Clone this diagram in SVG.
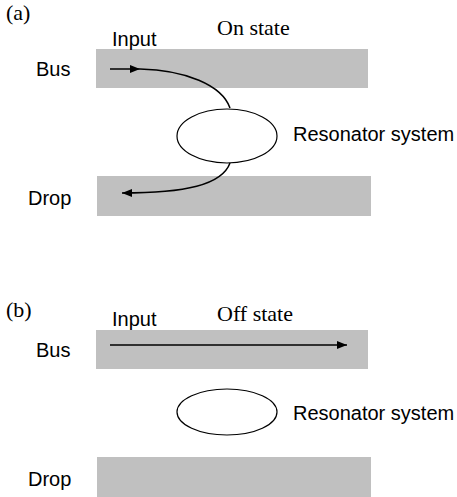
<svg xmlns="http://www.w3.org/2000/svg" width="457" height="497" viewBox="0 0 457 497">
<style>
.wg{fill:#c0c0c0}
.res{fill:#fff;stroke:#000;stroke-width:1.2}
.sans{font-family:"Liberation Sans",Arial,sans-serif;font-size:20px;fill:#000}
.serif{font-family:"Liberation Serif","Times New Roman",serif;font-size:22px;fill:#000}
.path{fill:none;stroke:#000;stroke-width:1.5}
</style>
<defs>
<marker id="ah" viewBox="0 0 10 8" refX="10" refY="4" markerWidth="10" markerHeight="8" markerUnits="userSpaceOnUse" orient="auto">
<path d="M0,0 L10,4 L0,8 Z" fill="#000"/>
</marker>
</defs>
<rect width="457" height="497" fill="#fff"/>
<g id="panel-a">
<text class="serif" x="6" y="20">(a)</text>
<text class="serif" x="217" y="35">On state</text>
<g id="bus-a"><rect class="wg" x="96" y="49" width="272" height="39"/><text class="sans" x="36" y="76">Bus</text></g>
<g id="drop-a"><rect class="wg" x="97" y="176" width="274" height="40"/><text class="sans" x="28" y="205">Drop</text></g>
<g id="res-a"><ellipse class="res" cx="227" cy="136" rx="50" ry="27"/><text class="sans" x="293" y="141">Resonator system</text></g>
<text class="sans" x="112" y="46" font-size="19">Input</text>
</g>
<g id="panel-b">
<text class="serif" x="6" y="317">(b)</text>
<text class="serif" x="217" y="321">Off state</text>
<g id="bus-b"><rect class="wg" x="96" y="330" width="272" height="39"/><text class="sans" x="36" y="357">Bus</text></g>
<g id="drop-b"><rect class="wg" x="97" y="457" width="274" height="40"/><text class="sans" x="28" y="486">Drop</text></g>
<g id="res-b"><ellipse class="res" cx="227" cy="412" rx="50" ry="23"/><text class="sans" x="293" y="420">Resonator system</text></g>
<text class="sans" x="112" y="326" font-size="19">Input</text>
</g>
<g id="connectors">
<line class="path" x1="110" y1="69" x2="140" y2="69" marker-end="url(#ah)"/>
<path class="path" d="M140,69 C185,70 222,85 230,108"/>
<path class="path" d="M230,163 C222,185 185,193 122,193" marker-end="url(#ah)"/>
<line class="path" x1="110" y1="345" x2="347" y2="345" marker-end="url(#ah)"/>
</g>
</svg>
